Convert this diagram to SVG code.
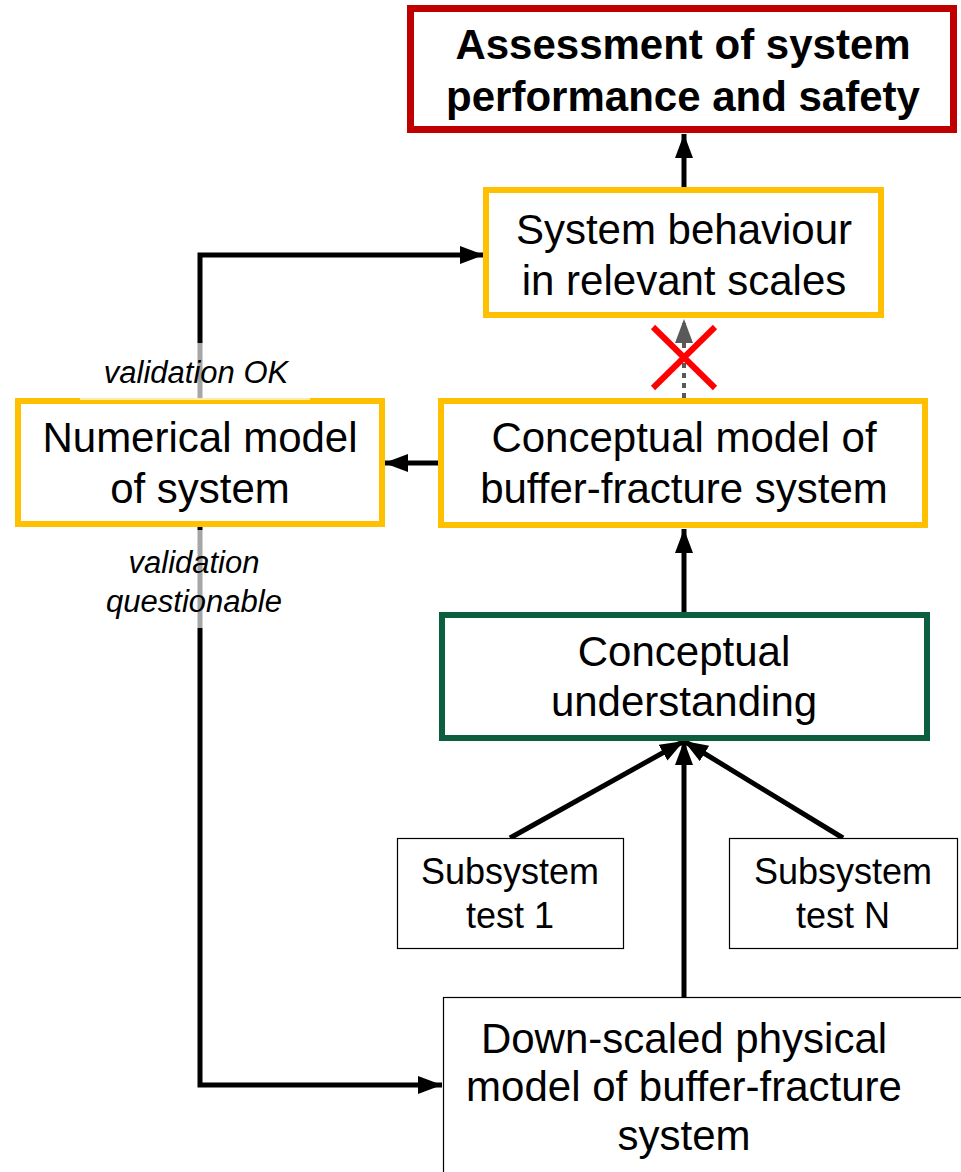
<svg xmlns="http://www.w3.org/2000/svg" width="961" height="1172" viewBox="0 0 961 1172">
<style>
.t{font-family:"Liberation Sans",Arial,sans-serif;font-size:42px;fill:#000;text-anchor:middle}
.b{font-weight:bold}
.s{font-size:36px}
.i{font-style:italic;font-size:31px}
.y{fill:#fff;stroke:#FFC000;stroke-width:6}
.k{fill:#fff;stroke:#000;stroke-width:1.2}
.c{fill:none;stroke:#000;stroke-width:5;marker-end:url(#ah)}
</style>
<defs>
<marker id="ah" markerUnits="userSpaceOnUse" markerWidth="26" markerHeight="20" refX="24" refY="9" orient="auto">
<path d="M0,0 L24,9 L0,18 z" fill="#000"/>
</marker>
<marker id="ag" markerUnits="userSpaceOnUse" markerWidth="26" markerHeight="20" refX="24" refY="9" orient="auto">
<path d="M0,0 L24,9 L0,18 z" fill="#595959"/>
</marker>
</defs>
<rect width="961" height="1172" fill="#fff"/>
<g id="connectors">
<line class="c" x1="684" y1="187" x2="684" y2="134"/>
<line x1="684" y1="398" x2="684" y2="319" stroke="#595959" stroke-width="4" stroke-dasharray="5,5" marker-end="url(#ag)"/>
<line class="c" x1="438" y1="463" x2="384" y2="463"/>
<polyline class="c" points="200,398 200,255 484,255"/>
<polyline class="c" points="200,527 200,1085 442,1085"/>
<line class="c" x1="684" y1="612" x2="684" y2="529"/>
<line class="c" x1="510" y1="838" x2="684" y2="741"/>
<line class="c" x1="843" y1="838" x2="684" y2="741"/>
<line class="c" x1="684" y1="997" x2="684" y2="741"/>
</g>
<g id="cross">
<line x1="653" y1="327" x2="715" y2="388" stroke="#FF0000" stroke-width="6"/>
<line x1="715" y1="327" x2="653" y2="388" stroke="#FF0000" stroke-width="6"/>
</g>
<g id="assessment">
<rect x="410.5" y="8.5" width="543" height="121" fill="#fff" stroke="#C00000" stroke-width="7"/>
<text class="t b" x="683" y="59">Assessment of system</text>
<text class="t b" x="683" y="111">performance and safety</text>
</g>
<g id="behaviour">
<rect class="y" x="486" y="190" width="395" height="125"/>
<text class="t" x="684" y="244">System behaviour</text>
<text class="t" x="684" y="295">in relevant scales</text>
</g>
<g id="conceptual-model">
<rect class="y" x="441" y="401" width="484" height="124"/>
<text class="t" x="684" y="452">Conceptual model of</text>
<text class="t" x="684" y="503">buffer-fracture system</text>
</g>
<g id="numerical-model">
<rect class="y" x="18" y="401" width="364" height="123"/>
<text class="t" x="200" y="452">Numerical model</text>
<text class="t" x="200" y="503">of system</text>
</g>
<g id="understanding">
<rect x="442" y="615" width="485" height="123" fill="#fff" stroke="#0B5E3E" stroke-width="6"/>
<text class="t" x="684" y="666">Conceptual</text>
<text class="t" x="684" y="716">understanding</text>
</g>
<g id="subsystem-1">
<rect class="k" x="397.5" y="838.5" width="226" height="110"/>
<text class="t s" x="510" y="884">Subsystem</text>
<text class="t s" x="510" y="928">test 1</text>
</g>
<g id="subsystem-n">
<rect class="k" x="729.5" y="838.5" width="228" height="110"/>
<text class="t s" x="843" y="884">Subsystem</text>
<text class="t s" x="843" y="928">test N</text>
</g>
<g id="downscaled">
<rect class="k" x="443.5" y="997.5" width="520" height="180"/>
<text class="t" x="684" y="1053">Down-scaled physical</text>
<text class="t" x="684" y="1101">model of buffer-fracture</text>
<text class="t" x="684" y="1150">system</text>
</g>
<g id="label-ok">
<rect x="80" y="343" width="230" height="57" fill="#fff" fill-opacity="0.65"/>
<text class="t i" x="196" y="383">validation OK</text>
</g>
<g id="label-questionable">
<rect x="100" y="530" width="190" height="98" fill="#fff" fill-opacity="0.65"/>
<text class="t i" x="194" y="573">validation</text>
<text class="t i" x="194" y="612">questionable</text>
</g>
</svg>
